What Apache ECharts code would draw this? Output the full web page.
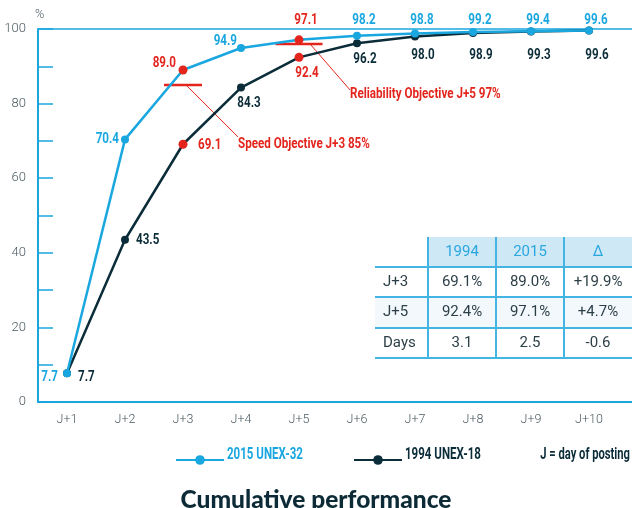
<!DOCTYPE html>
<html>
<head>
<meta charset="utf-8">
<script src="https://cdn.jsdelivr.net/npm/echarts@6/dist/echarts.min.js"></script>
<style>
html,body{margin:0;padding:0;background:#fff;}
#chart{width:632px;height:508px;}
</style>
</head>
<body>
<div id="chart"></div>
<script>
// ---- data ----
const categories = ['J+1','J+2','J+3','J+4','J+5','J+6','J+7','J+8','J+9','J+10'];
const perf2015 = [7.7, 70.4, 89.0, 94.9, 97.1, 98.2, 98.8, 99.2, 99.4, 99.6];
const perf1994 = [7.7, 43.5, 69.1, 84.3, 92.4, 96.2, 98.0, 98.9, 99.3, 99.6];
const highlightCats = ['J+3', 'J+5'];
const objectiveCats = ['J+3', 'J+5'];
const objectiveValues = [85, 96];
const objectiveLabels = ['Speed Objective J+3 85%', 'Reliability Objective J+5 97%'];
const seriesNames = ['2015 UNEX-32', '1994 UNEX-18'];
const yTickLabels = [0, 20, 40, 60, 80, 100];
const tableHeader = ['', '1994', '2015', '\u0394'];
const tableRows = [
  ['J+3', '69.1%', '89.0%', '+19.9%'],
  ['J+5', '92.4%', '97.1%', '+4.7%'],
  ['Days', '3.1', '2.5', '-0.6']
];
const noteText = 'J = day of posting';
const titleText = 'Cumulative performance';

// ---- styles ----
const BLUE = '#1aa7e0';
const DARK = '#0b2c39';
const RED = '#e3251d';
const GREY = '#4a5a61';
const LBLFONT = 'bold 14px Roboto, sans-serif';
const LBLSCALE = 0.83;
const barHalf = [19, 23.5];
const leader = [[3, 52, 52, 8], [11, 40, 46, 5]];

const chart = echarts.init(document.getElementById('chart'));

function pos2015(i, p, y100) {
  if (i === 0) return { x: p[0] - 9, y: p[1] + 4, align: 'right' };
  if (i === 1) return { x: p[0] - 6, y: p[1], align: 'right' };
  if (i === 2) return { x: p[0] - 7, y: p[1] - 7, align: 'right' };
  if (i === 3) return { x: p[0] - 4, y: p[1] - 7, align: 'right' };
  return { x: p[0] + 7, y: y100 - 9, align: 'center' };
}
function pos1994(i, p, y100) {
  if (i === 0) return { x: p[0] + 11, y: p[1] + 4, align: 'left' };
  if (i === 1) return { x: p[0] + 11, y: p[1] + 1, align: 'left' };
  if (i === 2) return { x: p[0] + 15, y: p[1] + 1, align: 'left' };
  return { x: p[0] + 8, y: Math.max(p[1] + 16, y100 + 26), align: 'center' };
}
function buildData(vals, color) {
  return vals.map((v, i) => {
    const hi = highlightCats.includes(categories[i]);
    return { value: v, symbolSize: hi ? 9 : 8, itemStyle: { color: hi ? RED : color } };
  });
}
function labelSeries(vals, color, posFn) {
  return {
    type: 'custom', z: 5, silent: true,
    data: vals.map((v, i) => [categories[i], v]),
    renderItem: (params, api) => {
      const i = params.dataIndex;
      const v = api.value(1);
      const p = api.coord([api.value(0), v]);
      const y100 = api.coord([api.value(0), 100])[1];
      const q = posFn(i, p, y100);
      const hi = highlightCats.includes(categories[i]);
      return {
        type: 'text', x: q.x, y: q.y, scaleX: LBLSCALE,
        style: { text: v.toFixed(1), fill: hi ? RED : color, font: LBLFONT, align: q.align, verticalAlign: 'middle' }
      };
    }
  };
}

// table graphics
const colX = [375, 428, 496, 564, 632];
const rowY = [237, 267, 297, 328, 358];
const tableEls = [];
tableEls.push({ type: 'rect', shape: { x: colX[1], y: rowY[0], width: colX[4] - colX[1], height: rowY[1] - rowY[0] }, style: { fill: '#cfe8f6' } });
tableEls.push({ type: 'rect', shape: { x: colX[0], y: rowY[2], width: colX[4] - colX[0], height: rowY[3] - rowY[2] }, style: { fill: '#f3f8fd' } });
for (let r = 1; r < rowY.length; r++) {
  tableEls.push({ type: 'line', shape: { x1: colX[0], y1: rowY[r], x2: colX[4], y2: rowY[r] }, style: { stroke: '#44b4e3', lineWidth: 2 } });
}
for (let c = 1; c < 4; c++) {
  tableEls.push({ type: 'line', shape: { x1: colX[c], y1: rowY[0], x2: colX[c], y2: rowY[4] }, style: { stroke: '#44b4e3', lineWidth: 2 } });
}
[tableHeader].concat(tableRows).forEach((row, r) => {
  row.forEach((txt, c) => {
    if (!txt) return;
    const left = c === 0;
    tableEls.push({
      type: 'text',
      x: left ? colX[0] + 8 : (colX[c] + colX[c + 1]) / 2,
      y: (rowY[r] + rowY[r + 1]) / 2,
      style: {
        text: txt, fill: r === 0 ? '#2aa7df' : '#2c3f47',
        font: '15px Roboto, sans-serif',
        align: left ? 'left' : 'center', verticalAlign: 'middle'
      }
    });
  });
});
const legendTexts = [
  { type: 'text', x: 227, y: 455, scaleX: 0.72, style: { text: seriesNames[0], fill: BLUE, font: 'bold 16px Roboto, sans-serif', verticalAlign: 'middle' } },
  { type: 'text', x: 405, y: 455, scaleX: 0.72, style: { text: seriesNames[1], fill: DARK, font: 'bold 16px Roboto, sans-serif', verticalAlign: 'middle' } },
  { type: 'text', x: 630, y: 455, scaleX: 0.7, style: { text: noteText, fill: DARK, font: 'bold 16px Roboto, sans-serif', align: 'right', verticalAlign: 'middle' } }
];

const axisFont = { color: GREY, fontFamily: 'Roboto', fontWeight: 300, fontSize: 12.5 };

const option = {
  animation: false,
  title: {
    text: titleText, left: 'center', top: 483,
    textStyle: { fontFamily: 'Lato, sans-serif', fontWeight: 900, fontSize: 24.5, color: '#0d2b36' }
  },
  legend: [
    { left: 170, top: 449, itemWidth: 48, itemHeight: 12, data: [seriesNames[0]], formatter: () => '', textStyle: { fontSize: 1 } },
    { left: 348, top: 449, itemWidth: 48, itemHeight: 12, data: [seriesNames[1]], formatter: () => '', textStyle: { fontSize: 1 } }
  ],
  grid: { left: 38, right: 14, top: 29, bottom: 106 },
  xAxis: {
    type: 'category', data: categories, boundaryGap: true,
    axisLine: { lineStyle: { color: BLUE, width: 2 } },
    axisTick: { inside: true, alignWithLabel: true, length: 11, lineStyle: { color: BLUE, width: 1.5 } },
    axisLabel: Object.assign({ margin: 11 }, axisFont),
    splitLine: { show: false }
  },
  yAxis: {
    type: 'value', min: 0, max: 100, interval: 10,
    name: '%', nameLocation: 'end', nameGap: 8,
    nameTextStyle: Object.assign({ align: 'left', padding: [0, 0, 0, -3] }, axisFont),
    axisLine: { show: true, lineStyle: { color: BLUE, width: 2 } },
    axisTick: { show: true, inside: true, length: 15, lineStyle: { color: BLUE, width: 1.5 } },
    axisLabel: Object.assign({ margin: 12, formatter: v => (yTickLabels.includes(v) ? String(v) : '') }, axisFont, { fontSize: 13 }),
    splitLine: { show: false }
  },
  series: [
    {
      type: 'custom', name: 'objectives', z: 1, silent: true,
      data: objectiveCats.map((c, i) => [c, objectiveValues[i]]),
      renderItem: (params, api) => {
        const i = params.dataIndex;
        const p = api.coord([api.value(0), api.value(1)]);
        const o = leader[i];
        return {
          type: 'group', children: [
            { type: 'line', shape: { x1: p[0] - barHalf[i], y1: p[1], x2: p[0] + barHalf[i], y2: p[1] }, style: { stroke: RED, lineWidth: 2.5 } },
            { type: 'line', shape: { x1: p[0] + o[0], y1: p[1], x2: p[0] + o[0] + o[1], y2: p[1] + o[2] }, style: { stroke: RED, lineWidth: 1 } },
            { type: 'text', x: p[0] + o[0] + o[1], y: p[1] + o[2] + o[3], scaleX: LBLSCALE, style: { text: objectiveLabels[i], fill: RED, font: LBLFONT, verticalAlign: 'middle' } }
          ]
        };
      }
    },
    {
      type: 'line', name: seriesNames[1], z: 3,
      data: buildData(perf1994, DARK),
      symbol: 'circle', symbolSize: 8,
      lineStyle: { color: DARK, width: 2.5 },
      itemStyle: { color: DARK }
    },
    {
      type: 'line', name: seriesNames[0], z: 4,
      data: buildData(perf2015, BLUE),
      symbol: 'circle', symbolSize: 8,
      lineStyle: { color: BLUE, width: 2.5 },
      itemStyle: { color: BLUE }
    },
    labelSeries(perf2015, BLUE, pos2015),
    labelSeries(perf1994, DARK, pos1994)
  ],
  graphic: tableEls.concat(legendTexts)
};
chart.setOption(option);

// extend axis line and the 100% line to the right edge
const y0 = chart.convertToPixel({ yAxisIndex: 0 }, 0);
const y100 = chart.convertToPixel({ yAxisIndex: 0 }, 100);
const gridRight = 632 - 14;
chart.setOption({
  graphic: tableEls.concat(legendTexts).concat([
    { type: 'line', z: 0, shape: { x1: gridRight, y1: y0, x2: 632, y2: y0 }, style: { stroke: BLUE, lineWidth: 2 } },
    { type: 'line', z: 0, shape: { x1: 38, y1: y100, x2: 632, y2: y100 }, style: { stroke: BLUE, lineWidth: 1.5 } }
  ])
});
</script>
</body>
</html>
